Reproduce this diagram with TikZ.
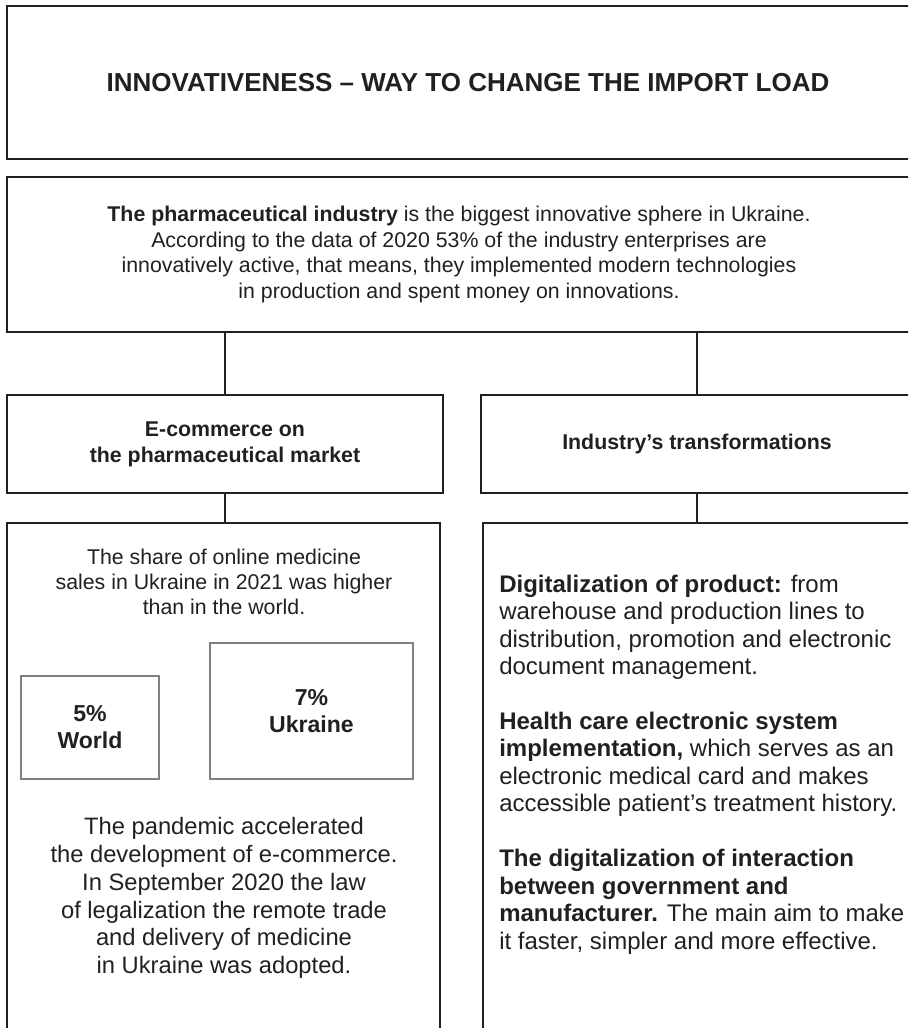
\documentclass[tikz,border=0pt]{standalone}
\usepackage{fontspec}
\setmainfont{Liberation Sans}
\usepackage{tikz}
\usetikzlibrary{positioning}
\definecolor{inkdark}{RGB}{35,31,32}
\definecolor{framegray}{RGB}{128,128,128}

\newcommand{\fsz}[2]{\fontsize{#1}{#2}\selectfont}

\begin{document}
\begin{tikzpicture}[x=0.75pt, y=-0.75pt, text=inkdark,
  frame/.style={draw=inkdark, line width=1.4pt, inner sep=0pt, align=center},
  statbox/.style={draw=framegray, line width=1.5pt, inner sep=0pt, align=center,
    font=\fsz{17.3}{20.3}\bfseries},
  link/.style={draw=inkdark, line width=1.1pt}]
  \useasboundingbox (0,0) rectangle (908,1028);
  \clip (0,0) rectangle (908,1028);

  % heading and the summary under it
  \node[frame, minimum width=691.5pt, minimum height=114.75pt,
    font=\fsz{19.5}{23}\bfseries] (head) at (468,82.5)
    {INNOVATIVENESS – WAY TO CHANGE THE IMPORT LOAD};
  \node[frame, minimum width=678pt, minimum height=116.25pt,
    font=\fsz{16}{19.1}] (industry) at (459,254.5)
    {{\bfseries The pharmaceutical industry} is the biggest innovative sphere in Ukraine.\\
     According to the data of 2020 53\% of the industry enterprises are\\
     innovatively active, that means, they implemented modern technologies\\
     in production and spent money on innovations.};

  % the two branches
  \node[frame, minimum width=327pt, minimum height=73.5pt,
    font=\fsz{16}{19.5}\bfseries] (ecom) at (225,444)
    {E-commerce on\\the pharmaceutical market};
  \node[frame, minimum width=324pt, minimum height=73.5pt,
    font=\fsz{16}{19.5}\bfseries] (transf) at (697,444)
    {Industry’s transformations};

  % lower boxes run off the page
  \node[frame, minimum width=324.75pt, minimum height=410.25pt] (sales) at (223.5,796.5) {};
  \node[frame, minimum width=322.5pt, minimum height=410.25pt] (trends) at (698,796.5) {};

  \draw[link] (industry.south -| ecom.north) -- (ecom.north);
  \draw[link] (industry.south -| transf.north) -- (transf.north);
  \draw[link] (ecom.south) -- (ecom.south |- sales.north);
  \draw[link] (transf.south) -- (transf.south |- trends.north);

  % online sales
  \node[align=center, font=\fsz{16}{18.75}] (share) at (224,582)
    {The share of online medicine\\sales in Ukraine in 2021 was higher\\than in the world.};
  \node[statbox, minimum width=103.5pt, minimum height=77.25pt] (world) at (90,727.5)
    {5\%\\World};
  \node[statbox, minimum width=152.25pt, minimum height=102pt] (ukraine) at (311.5,711)
    {7\%\\Ukraine};
  \node[align=center, font=\fsz{17.8}{20.8}] (pandemic) at (224,898)
    {The pandemic accelerated\\the development of e-commerce.\\In September 2020 the law\\
     of legalization the remote trade\\and delivery of medicine\\in Ukraine was adopted.};

  % transformations list
  \node[anchor=west, align=left, inner sep=0pt, font=\fsz{18}{20.6}] (digital) at (499,764.5)
    {{\bfseries Digitalization of product:} from\\
     warehouse and production lines to\\
     distribution, promotion and electronic\\
     document management.\\[20.6pt]
     {\bfseries Health care electronic system}\\
     {\bfseries implementation,} which serves as an\\
     electronic medical card and makes\\
     accessible patient’s treatment history.\\[20.6pt]
     {\bfseries The digitalization of interaction}\\
     {\bfseries between government and}\\
     {\bfseries manufacturer.} The main aim to make\\
     it faster, simpler and more effective.};
\end{tikzpicture}
\end{document}
